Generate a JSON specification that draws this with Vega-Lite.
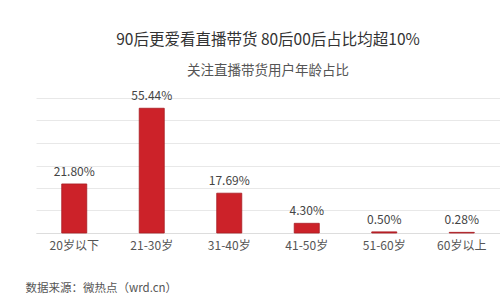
{
  "$schema": "https://vega.github.io/schema/vega-lite/v6.json",
  "width": 464,
  "height": 135,
  "autosize": {"type": "none"},
  "padding": {"left": 36, "top": 98, "right": 0, "bottom": 67},
  "background": "white",
  "config": {"font": "Noto Sans CJK SC", "view": {"stroke": null}},
  "title": {
    "text": "90后更爱看直播带货 80后00后占比均超10%",
    "subtitle": "关注直播带货用户年龄占比",
    "anchor": "middle",
    "frame": "group",
    "fontSize": 15.5,
    "fontWeight": "normal",
    "color": "#333333",
    "subtitleFontSize": 13.5,
    "subtitleColor": "#555555",
    "subtitlePadding": 15,
    "offset": 13
  },
  "data": {
    "values": [
      {"age": "20岁以下", "value": 0.2180},
      {"age": "21-30岁", "value": 0.5544},
      {"age": "31-40岁", "value": 0.1769},
      {"age": "41-50岁", "value": 0.0430},
      {"age": "51-60岁", "value": 0.0050},
      {"age": "60岁以上", "value": 0.0028}
    ]
  },
  "encoding": {
    "x": {
      "field": "age",
      "type": "nominal",
      "sort": null,
      "scale": {"paddingInner": 0.677, "paddingOuter": 0.332},
      "axis": {
        "labelAngle": 0,
        "labelFontSize": 12,
        "labelColor": "#555555",
        "labelPadding": 7,
        "ticks": false,
        "domainColor": "#dddddd",
        "title": "数据来源：微热点（wrd.cn）",
        "titleAnchor": "start",
        "titleAlign": "left",
        "titleBaseline": "top",
        "titleLimit": 500,
        "titleX": -11,
        "titleY": 49,
        "titleFontSize": 11.5,
        "titleFontWeight": "normal",
        "titleColor": "#555555"
      }
    },
    "y": {
      "field": "value",
      "type": "quantitative",
      "scale": {"domain": [0, 0.6], "nice": false},
      "axis": {
        "values": [0, 0.1, 0.2, 0.3, 0.4, 0.5, 0.6],
        "labels": false,
        "ticks": false,
        "domain": false,
        "title": null,
        "gridColor": "#e8e8e8"
      }
    }
  },
  "layer": [
    {"mark": {"type": "bar", "color": "#cc2229", "stroke": "#a81c22", "strokeWidth": 0.8}},
    {
      "mark": {"type": "text", "baseline": "bottom", "dy": -5, "fontSize": 12, "color": "#444444"},
      "encoding": {"text": {"field": "value", "type": "quantitative", "format": ".2%"}}
    }
  ]
}
